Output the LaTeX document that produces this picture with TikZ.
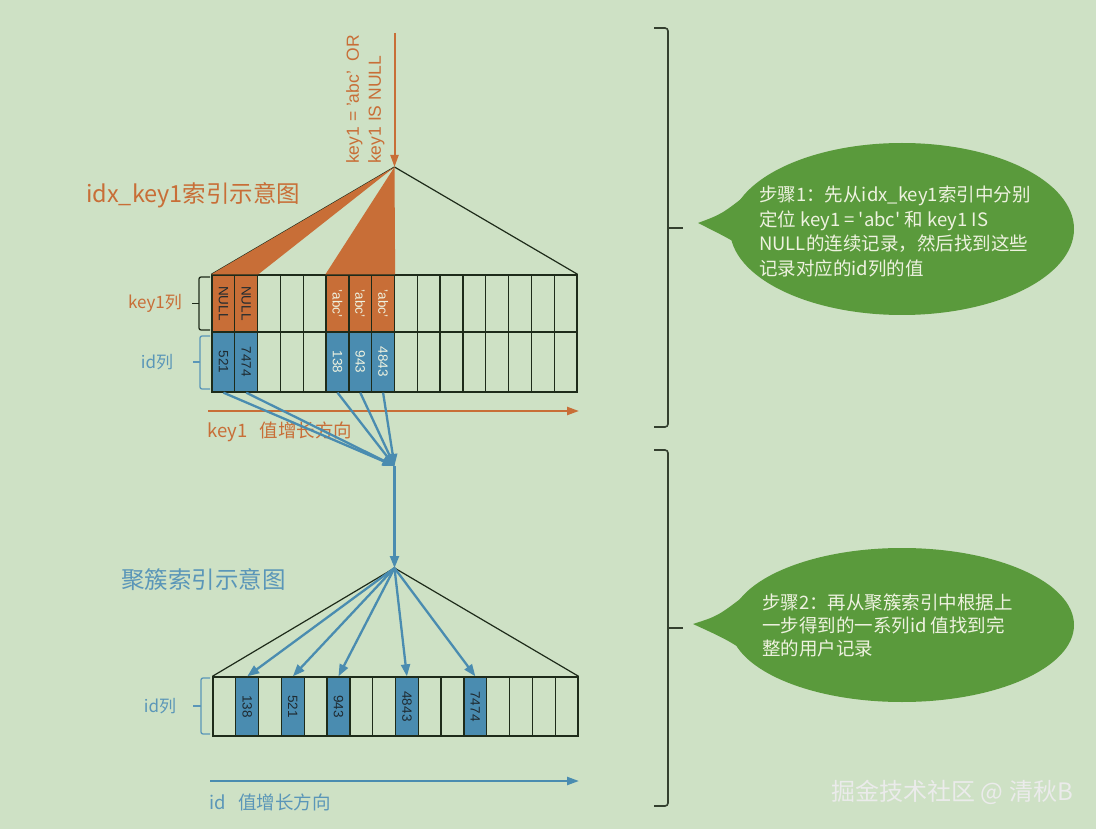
\documentclass[tikz,border=0pt]{standalone}
\usepackage{fontspec}
\setmainfont{Liberation Sans}
\newfontfamily\cjk{Noto Sans CJK SC}
\usetikzlibrary{arrows.meta}
\definecolor{bg}{HTML}{CEE1C5}
\definecolor{kor}{HTML}{C86E37}
\definecolor{kbl}{HTML}{4A8CB0}
\definecolor{kbt}{HTML}{5A96B8}
\definecolor{kln}{HTML}{1E2B1A}
\definecolor{kgr}{HTML}{5A9A3C}
\definecolor{ktx}{HTML}{EEF2E0}
\definecolor{kdk}{HTML}{1F2A30}
\definecolor{kbr}{HTML}{34402F}
\begin{document}
\begin{tikzpicture}[x=1pt,y=-1pt,
  cellbox/.style={draw=kln,line width=1.3pt,minimum width=22.8125pt,inner sep=0pt,font=\fontsize{13.5}{13.5}\selectfont},
  tri/.style={draw=kln,line width=1.2pt},
  barrow/.style={draw=kbl,line width=2.3pt,-{Triangle[length=12pt,width=9pt]}},
  oarrow/.style={draw=kor,line width=2pt,-{Triangle[length=12pt,width=8pt]}},
  dirarrow/.style={line width=2.2pt,-{Triangle[length=12pt,width=8pt]}},
  bracket/.style={line width=1.3pt,rounded corners=2pt},
  bigbrace/.style={draw=kbr,line width=1.6pt,rounded corners=3pt},
  cjklabel/.style={font=\cjk\fontsize{17}{17}\selectfont},
  dirlabel/.style={font=\cjk\fontsize{18.5}{18.5}\selectfont,anchor=west,inner sep=0pt},
  title/.style={font=\cjk\fontsize{23.5}{23.5}\selectfont,anchor=west,inner sep=0pt},
  bubbletext/.style={anchor=north west,align=left,inner sep=0pt,text=ktx}
]
\fill[bg] (0,0) rectangle (1096,829);
\useasboundingbox (0,0) rectangle (1096,829);

% key points
\coordinate (o) at (394.5,33);
\coordinate (a1) at (394.5,167);
\coordinate (m) at (394.5,466);
\coordinate (a2) at (394.5,568);
\coordinate (d1) at (208,411);
\coordinate (d2) at (579,411);
\coordinate (e1) at (210,781);
\coordinate (e2) at (579,781);

% upper table key1 row
\foreach \i/\f/\c/\t in {1/kor/kdk/NULL,2/kor/kdk/NULL,3/none/kdk/,4/none/kdk/,5/none/kdk/,
  6/kor/ktx/{'abc'},7/kor/ktx/{'abc'},8/kor/ktx/{'abc'},9/none/kdk/,10/none/kdk/,11/none/kdk/,
  12/none/kdk/,13/none/kdk/,14/none/kdk/,15/none/kdk/,16/none/kdk/}
  \node[cellbox,minimum height=57pt,fill=\f,text=\c] (u\i) at ({212+(\i-0.5)*22.8125},303.5) {\rotatebox{-90}{\t}};
% upper table id row
\foreach \i/\f/\c/\t in {1/kbl/kdk/521,2/kbl/kdk/7474,3/none/kdk/,4/none/kdk/,5/none/kdk/,
  6/kbl/ktx/138,7/kbl/ktx/943,8/kbl/ktx/4843,9/none/kdk/,10/none/kdk/,11/none/kdk/,
  12/none/kdk/,13/none/kdk/,14/none/kdk/,15/none/kdk/,16/none/kdk/}
  \node[cellbox,minimum height=60pt,fill=\f,text=\c] (v\i) at ({212+(\i-0.5)*22.8125},362) {\rotatebox{-90}{\t}};

% upper triangle and orange wedges
\draw[tri] (a1) -- (u1.north west);
\draw[tri] (a1) -- (u16.north east);
\fill[kor] (a1) -- (u1.north west) -- (u2.north east) -- cycle;
\fill[kor] (a1) -- (u6.north west) -- (u8.north east) -- cycle;
\draw[oarrow] (o) -- (a1);
\node[rotate=90,anchor=north west,align=left,inner sep=0pt,text=kor,font=\fontsize{17.5}{22}\selectfont] (cond) at (346,164) {key1 = 'abc'\ \ OR\\key1 IS NULL};

% upper titles and labels
\node[title,text=kor] (t1) at (86,195) {idx\_key1索引示意图};
\draw[bracket,draw=kln] (210,277) -- (199,277) -- (199,330) -- (210,330);
\draw[line width=1.3pt,draw=kln] (199,303.5) -- (192,303.5);
\node[cjklabel,text=kor] (lk) at (155,303) {key1列};
\draw[bracket,draw=kbt] (210,336) -- (200,336) -- (200,389) -- (210,389);
\draw[line width=1.3pt,draw=kbt] (200,362) -- (193,362);
\node[cjklabel,text=kbt] (li) at (157,362) {id列};

\draw[dirarrow,draw=kor] (d1) -- (d2);
\node[dirlabel,text=kor] (dk) at (207,432) {key1\ \ \ 值增长方向};

% converging arrows
\foreach \i in {1,2,6,7,8} \draw[barrow] (v\i.south) -- (m);
\draw[barrow] (m) -- (a2);

% lower table
\foreach \i/\f/\t in {1/none/,2/kbl/138,3/none/,4/kbl/521,5/none/,6/kbl/943,7/none/,8/none/,
  9/kbl/4843,10/none/,11/none/,12/kbl/7474,13/none/,14/none/,15/none/,16/none/}
  \node[cellbox,minimum height=59pt,fill=\f,text=kdk] (w\i) at ({213+(\i-0.5)*22.8125},706.5) {\rotatebox{-90}{\t}};
\draw[tri] (a2) -- (w1.north west);
\draw[tri] (a2) -- (w16.north east);
\foreach \i in {2,4,6,9,12} \draw[barrow] (a2) -- (w\i.north);

\node[title,text=kbt] (t2) at (121,580) {聚簇索引示意图};
\draw[bracket,draw=kbt] (210,678) -- (201,678) -- (201,734) -- (210,734);
\draw[line width=1.3pt,draw=kbt] (201,706) -- (193,706);
\node[cjklabel,text=kbt] (lw) at (160,706) {id列};
\draw[dirarrow,draw=kbl] (e1) -- (e2);
\node[dirlabel,text=kbt] (de) at (209,802) {id\ \ \ 值增长方向};

% big braces
\draw[bigbrace] (654,28) -- (668,28) -- (668,427) -- (654,427);
\draw[line width=1.6pt,draw=kbr] (668,228) -- (683,228);
\draw[bigbrace] (654,450) -- (668,450) -- (668,806) -- (654,806);
\draw[line width=1.6pt,draw=kbr] (668,628) -- (683,628);

% bubble 1
\fill[kgr] (902,229) ellipse [x radius=172pt,y radius=86pt];
\fill[kgr] (698,223) .. controls (722,214) .. (750,192) -- (762,260) .. controls (732,240) .. (698,223) -- cycle;
\node[bubbletext,font=\cjk\fontsize{18.5}{24.5}\selectfont] (s1) at (759,186) {步骤1：先从idx\_key1索引中分别\\定位 key1 = \textquotesingle abc\textquotesingle{} 和 key1 IS\\NULL的连续记录，然后找到这些\\记录对应的id列的值};

% bubble 2
\fill[kgr] (902,625) ellipse [x radius=172pt,y radius=77pt];
\fill[kgr] (693,624) .. controls (718,616) .. (748,593) -- (758,660) .. controls (728,640) .. (693,624) -- cycle;
\node[bubbletext,font=\cjk\fontsize{18.5}{23}\selectfont] (s2) at (762,594) {步骤2：再从聚簇索引中根据上\\一步得到的一系列id 值找到完\\整的用户记录};

% watermark
\node[anchor=east,inner sep=0pt,text=white!92!black,font=\cjk\fontsize{24}{24}\selectfont] (wm) at (1073,792) {掘金技术社区 @ 清秋B};
\end{tikzpicture}
\end{document}
